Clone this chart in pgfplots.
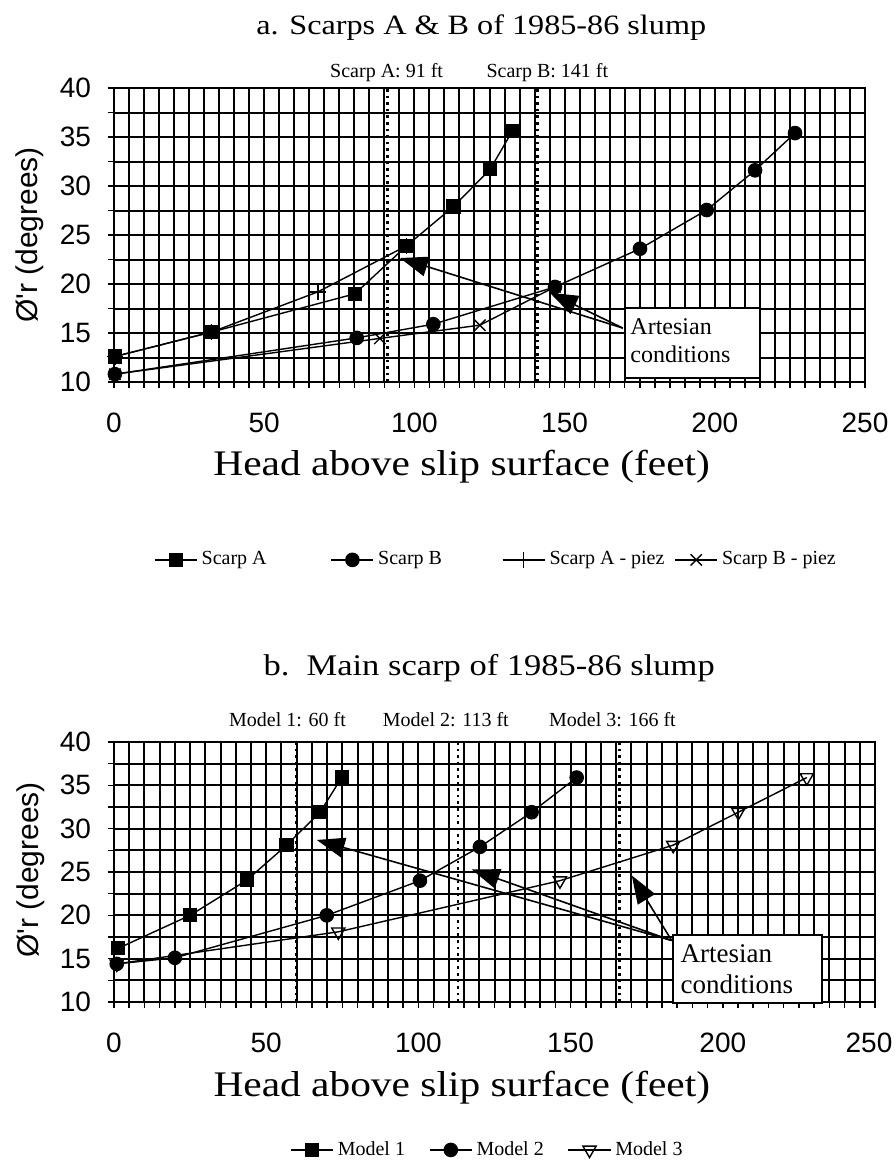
\documentclass[border=0pt]{standalone}
\usepackage{pgfplots}
\pgfplotsset{compat=1.18}
\usepackage{fontspec}
\setmainfont{Liberation Serif}
\newfontfamily\arialfont{Liberation Sans}
\newfontfamily\widetimes[FakeStretch=1.15]{Liberation Serif}
\usetikzlibrary{arrows.meta}

\tikzset{arr/.style={black, line width=0.8pt, -{Triangle[length=14pt,width=10pt]}}}

\pgfplotsset{
  every axis title shift=0pt,
  panel/.style={
    scale only axis,
    xmin=0, xmax=250, ymin=10, ymax=40,
    xtick={0,50,...,250}, ytick={10,15,...,40},
    minor x tick num=9, minor y tick num=1,
    grid=both,
    major grid style={black, line width=1pt, solid},
    minor grid style={black, line width=1pt, solid},
    axis line style={black, line width=1.1pt},
    tick style={black, line width=0.8pt},
    tick align=outside, major tick length=3pt, minor tick length=3pt,
    xtick pos=bottom, ytick pos=left,
    /pgf/number format/assume math mode=true,
    ticklabel style={font=\arialfont\fontsize{14}{14}\selectfont},
    xticklabel style={yshift=-9pt},
    yticklabel style={xshift=-5pt},
    ylabel={Ø'r (degrees)},
    ylabel style={font=\arialfont\fontsize{15}{15}\selectfont},
    xlabel={Head above slip surface (feet)},
    xlabel style={font=\widetimes\fontsize{18}{18}\selectfont},
    clip=false,
    legend cell align=left,
    legend style={draw=none, fill=none, font=\fontsize{10}{12}\selectfont, anchor=center},
    legend image code/.code={\draw[mark repeat=2,mark phase=2,##1] plot coordinates {(0cm,0cm) (0.37cm,0cm) (0.74cm,0cm)};},
  },
  ser/.style={black, line width=0.7pt},
}

\begin{document}
\begin{tikzpicture}[x=1pt,y=1pt]
\path[use as bounding box] (0,0) rectangle (447.5,-580.5);

% ---------------- Panel a ----------------
\begin{axis}[panel,
  at={(57pt,-191pt)}, anchor=south west,
  width=375.5pt, height=147pt,
  title={a. Scarps A \& B of 1985-86 slump},
  title style={font=\widetimes\fontsize{14}{14}\selectfont, at={(axis description cs:0.489,1.207)}, anchor=center},
  xlabel style={at={(axis description cs:0.463,-0.289)}, anchor=center},
  ylabel style={at={(axis description cs:-0.112,0.5)}, anchor=center},
  legend columns=4,
  legend style={at={(0.51,-0.605)},
    /tikz/column 2/.style={column sep=30pt},
    /tikz/column 4/.style={column sep=28pt},
    /tikz/column 6/.style={column sep=3pt}},
]
\draw[black, dotted, line width=1.3pt] (axis cs:91,10) -- (axis cs:91,40);
\draw[black, dotted, line width=1.3pt] (axis cs:141,10) -- (axis cs:141,40);

\addplot[ser, mark=square*, mark size=3.2pt] coordinates {
 (0.3,12.6) (32.5,15.1) (80.2,19.0) (97.4,23.9) (113.0,27.9) (125.2,31.7) (132.6,35.6)};
\addlegendentry{Scarp A}
\addplot[ser, mark=*, mark size=3.3pt] coordinates {
 (0.3,10.8) (80.8,14.5) (106.3,15.9) (146.8,19.7) (175.1,23.6) (197.3,27.55) (213.4,31.6) (226.7,35.4)};
\addlegendentry{Scarp B}
\addplot[ser, mark=+, mark size=4pt] coordinates {
 (0.3,12.6) (32.5,15.1) (67.9,19.2) (97.4,23.9)};
\addlegendentry{Scarp A - piez}
\addplot[ser, mark=x, mark size=4pt] coordinates {
 (0.3,10.8) (88.5,14.45) (121.8,15.8) (146.8,19.7)};
\addlegendentry{Scarp B - piez}

\draw[arr] (axis cs:169.4,15.5) -- (axis cs:95.2,22.65);
\draw[arr] (axis cs:169.4,15.5) -- (axis cs:145.1,19.1);
\draw[black, line width=0.8pt, fill=white] (axis cs:170.1,10.4) rectangle (axis cs:215.1,17.55);
\node[anchor=west, align=left, font=\fontsize{12}{14}\selectfont, inner sep=0pt] at (axis cs:171.8,14.2) {Artesian\\conditions};

\node[font=\fontsize{10}{12}\selectfont] at (axis description cs:0.363,1.054) {Scarp A: 91 ft};
\node[font=\fontsize{10}{12}\selectfont] at (axis description cs:0.577,1.054) {Scarp B: 141 ft};
\end{axis}

% ---------------- Panel b ----------------
\begin{axis}[panel,
  at={(57pt,-501pt)}, anchor=south west,
  width=380.5pt, height=130pt,
  xticklabels={0,50,100,150,200,\hspace*{-6pt}250},
  title={b.\ \ Main scarp of 1985-86 slump},
  title style={font=\widetimes\fontsize{15}{15}\selectfont, at={(axis description cs:0.493,1.285)}, anchor=center},
  xlabel style={at={(axis description cs:0.457,-0.331)}, anchor=center},
  ylabel style={at={(axis description cs:-0.110,0.508)}, anchor=center},
  legend columns=3,
  legend style={at={(0.492,-0.569)},
    /tikz/every even column/.append style={column sep=10pt}},
]
\draw[black, dotted, line width=1.3pt] (axis cs:60,10) -- (axis cs:60,40);
\draw[black, dotted, line width=1.3pt] (axis cs:113,10) -- (axis cs:113,40);
\draw[black, dotted, line width=1.3pt] (axis cs:166,10) -- (axis cs:166,40);

\addplot[ser, mark=square*, mark size=3.2pt] coordinates {
 (1.4,16.2) (25.0,20.0) (43.6,24.05) (56.7,28.1) (67.7,31.9) (74.8,35.9)};
\addlegendentry{Model 1}
\addplot[ser, mark=*, mark size=3.3pt] coordinates {
 (0.9,14.4) (20.0,15.1) (69.9,20.0) (100.5,24.0) (120.2,27.9) (137.2,31.9) (152.0,35.9)};
\addlegendentry{Model 2}
\addplot[ser, mark=triangle, mark size=3.8pt, mark options={rotate=180, fill=white, solid}] coordinates {
 (0.9,14.4) (73.7,18.1) (146.5,24.0) (183.7,28.1) (205.1,31.9) (227.6,35.9)};
\addlegendentry{Model 3}

\draw[arr] (axis cs:183.2,17.1) -- (axis cs:66.6,28.7);
\draw[arr] (axis cs:183.2,17.1) -- (axis cs:117.5,25.3);
\draw[arr] (axis cs:183.2,17.1) -- (axis cs:170.1,24.6);
\draw[black, line width=0.8pt, fill=white] (axis cs:183.7,9.9) rectangle (axis cs:232.5,17.7);
\node[anchor=west, align=left, font=\fontsize{13.5}{15.5}\selectfont, inner sep=0pt] at (axis cs:186,13.8) {Artesian\\conditions};

\node[font=\fontsize{10}{12}\selectfont] at (axis description cs:0.228,1.085) {Model 1: 60 ft};
\node[font=\fontsize{10}{12}\selectfont] at (axis description cs:0.436,1.085) {Model 2: 113 ft};
\node[font=\fontsize{10}{12}\selectfont] at (axis description cs:0.655,1.085) {Model 3: 166 ft};
\end{axis}
\end{tikzpicture}
\end{document}
